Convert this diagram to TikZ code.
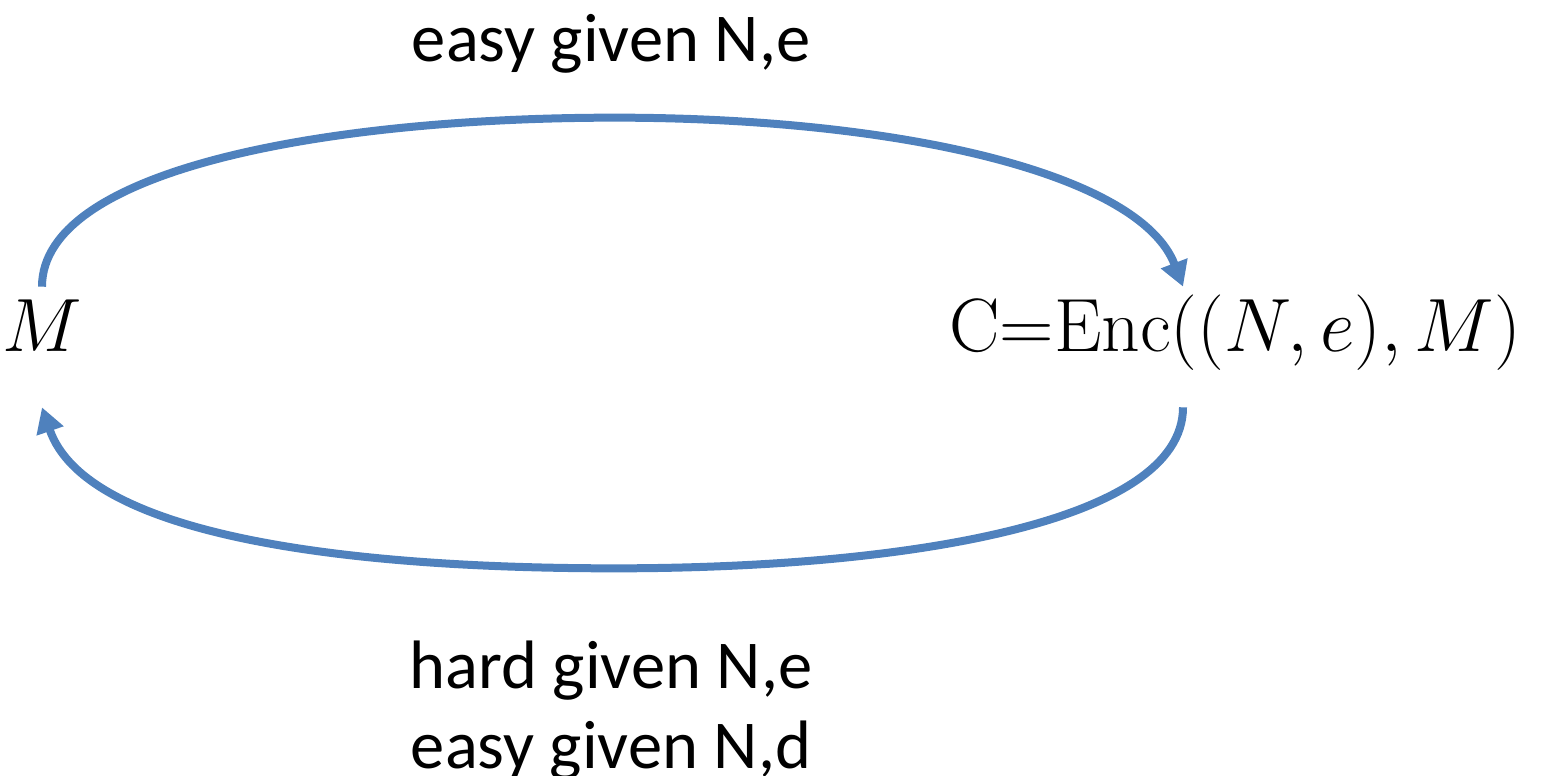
\RequirePackage{fix-cm}
\documentclass[tikz,border=0pt]{standalone}
\usepackage{fontspec}
\usepackage{tikz}
\usetikzlibrary{arrows.meta, positioning}
\newfontfamily\calibri{Carlito}
\definecolor{officeblue}{RGB}{79,129,189}

\begin{document}
\begin{tikzpicture}[x=0.02cm, y=-0.02cm, >={Triangle[length=0.5cm, width=0.54cm]},
    flow/.style={->, draw=officeblue, line width=0.16cm},
    term/.style={inner sep=0pt, minimum height=2.4cm, text height=0.7em, text depth=0.2em,
        font=\fontsize{43}{50}\selectfont},
    lbl/.style={font=\calibri\fontsize{39}{45.5}\selectfont, align=center, anchor=base}]
    \useasboundingbox (0,0) rectangle (1549,776);

    \node[term] (M) at (42,347) {$M$};
    \node[term] (enc) at (1235,347) {$\mathrm{C{=}Enc}((N,e),M)$};
    \path ([xshift=-1.04cm]enc.north) coordinate (encTop)
          ([xshift=-1.04cm]enc.south) coordinate (encBot);

    \node[lbl] (easy) at (611,62) {easy given N,e};
    \node[lbl] (hard) at (611,768) {hard given N,e\\easy given N,d};

    % Verschlüsseln oben, Entschlüsseln unten
    \draw[flow] (M.north) .. controls +(0,-118) and +(-285,0) .. ++(573,-169)
                .. controls +(285,0) and +(-43,-113) .. (encTop);
    \draw[flow] (encBot) .. controls +(0,117) and +(285,0) .. ++(-568,161)
                .. controls +(-285,0) and +(43,125) .. (M.south);
\end{tikzpicture}
\end{document}
